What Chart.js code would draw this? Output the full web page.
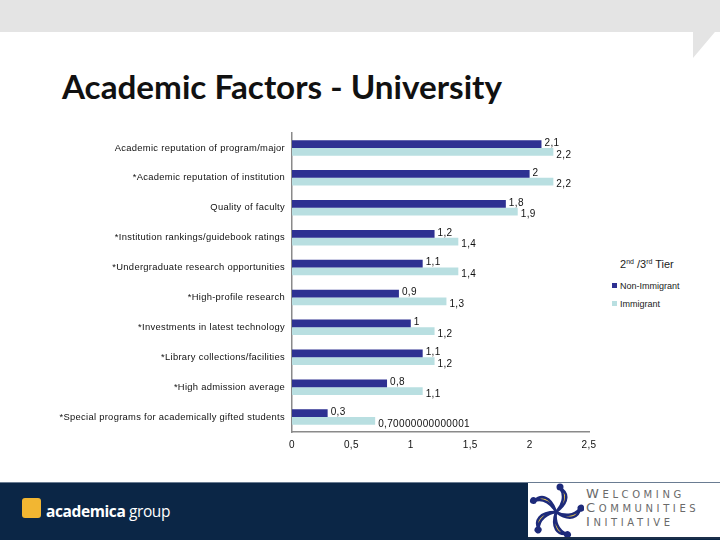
<!DOCTYPE html>
<html>
<head>
<meta charset="utf-8">
<script src="https://cdn.jsdelivr.net/npm/chart.js@4.4.0/dist/chart.umd.min.js"></script>
<style>
  html,body{margin:0;padding:0;background:#fff;}
  body{width:720px;height:540px;position:relative;overflow:hidden;font-family:"Liberation Sans",Arial,sans-serif;}
  #band{position:absolute;left:0;top:0;width:720px;height:32px;background:#e4e4e4;}
  #notch{position:absolute;left:0;top:0;}
  #title{position:absolute;left:62px;top:66px;font-family:Lato,"Open Sans",sans-serif;font-weight:bold;font-size:33px;color:#111;white-space:nowrap;transform-origin:0 0;}
  #legend{position:absolute;left:612px;top:258px;font-family:"Liberation Sans",Arial,sans-serif;color:#222;}
  #legend .t{font-size:11px;margin-left:8px;white-space:nowrap;}
  #legend .t sup{font-size:7px;vertical-align:4px;line-height:0;}
  #legend .it{font-size:9px;position:absolute;left:0;white-space:nowrap;}
  #legend .sw{display:inline-block;width:5px;height:5px;margin-right:3px;vertical-align:1px;}
  #footer{position:absolute;left:0;top:482px;width:720px;height:58px;background:#0b2646;border-top:1px solid #6a7c92;}
  #alogo{position:absolute;left:22px;top:15px;width:19px;height:20px;background:#f2b632;border-radius:3px;}
  #atext{position:absolute;left:46px;top:17px;color:#fff;font-family:"Open Sans",sans-serif;font-size:15.5px;letter-spacing:-0.4px;white-space:nowrap;}
  #wbox{position:absolute;left:528px;top:0;width:192px;height:54px;background:#fff;border-bottom:2px solid #1b2f4a;}
  #wtext{position:absolute;left:58px;top:4px;color:#6a6a6a;font-family:"DejaVu Sans",sans-serif;font-size:10px;letter-spacing:3.6px;line-height:13px;white-space:nowrap;}
  #wtext b{font-weight:normal;font-size:13px;}
  #c{position:absolute;left:0;top:0;z-index:5;}
</style>
</head>
<body>
<div id="band"></div>
<svg id="notch" width="720" height="70"><polygon points="693,31 693,58 720,26 720,31" fill="#e4e4e4"/></svg>
<div id="title">Academic Factors - University</div>
<div id="legend">
  <div class="t">2<sup>nd</sup> /3<sup>rd</sup> Tier</div>
  <div class="it" style="top:23px"><span class="sw" style="background:#2e3192"></span>Non-Immigrant</div>
  <div class="it" style="top:41px"><span class="sw" style="background:#b9dfe1"></span>Immigrant</div>
</div>
<div id="footer">
  <div id="alogo"></div>
  <div id="atext"><b>academica</b> group</div>
  <div id="wbox">
    <svg width="56" height="54" style="position:absolute;left:0;top:0">
      <g transform="translate(28,29)">
        <g id="pet">
          <path d="M0,0 C6,-6 10,-16 4,-24 C12,-20 14,-10 0,0 Z" fill="#f5d04a" stroke="#1d2a7a" stroke-width="2.5"/>
          <circle cx="4" cy="-25" r="3.5" fill="#1d2a7a"/>
        </g>
        <use href="#pet" transform="rotate(72)"/>
        <use href="#pet" transform="rotate(144)"/>
        <use href="#pet" transform="rotate(216)"/>
        <use href="#pet" transform="rotate(288)"/>
      </g>
    </svg>
    <div id="wtext"><b>W</b>ELCOMING<br><b>C</b>OMMUNITIES<br><b>I</b>NITIATIVE</div>
  </div>
</div>
<canvas id="c" width="720" height="540"></canvas>
<script>
const categories = [
  "Academic reputation of program/major",
  "*Academic reputation of institution",
  "Quality of faculty",
  "*Institution rankings/guidebook ratings",
  "*Undergraduate research opportunities",
  "*High-profile research",
  "*Investments in latest technology",
  "*Library collections/facilities",
  "*High admission average",
  "*Special programs for academically gifted students"
];
const nonImmigrant = [2.1, 2, 1.8, 1.2, 1.1, 0.9, 1, 1.1, 0.8, 0.3];
const immigrant = [2.2, 2.2, 1.9, 1.4, 1.4, 1.3, 1.2, 1.2, 1.1, 0.70000000000001];
const xTicks = [0, 0.5, 1, 1.5, 2, 2.5];

// fit title width
const t = document.getElementById('title');
const w = t.getBoundingClientRect().width;
t.style.transform = 'scaleX(' + (440 / w) + ')';

const fmt = v => String(v).replace('.', ',');

const spacingPlugin = {
  id: 'spacing',
  beforeDraw(chart) { chart.ctx.letterSpacing = '0.3px'; }
};

const labelPlugin = {
  id: 'vlabels',
  afterDatasetsDraw(chart) {
    const ctx = chart.ctx;
    ctx.save();
    ctx.letterSpacing = '0.35px';
    ctx.font = '10px "Liberation Sans", Arial, sans-serif';
    ctx.fillStyle = '#111';
    ctx.textAlign = 'left';
    ctx.textBaseline = 'middle';
    chart.data.datasets.forEach((ds, di) => {
      const meta = chart.getDatasetMeta(di);
      meta.data.forEach((el, i) => {
        const dy = di === 0 ? -1 : 3;
        ctx.fillText(fmt(ds.data[i]), el.x + 3, el.y + dy);
      });
    });
    ctx.restore();
  }
};

new Chart(document.getElementById('c'), {
  type: 'bar',
  data: {
    labels: categories,
    datasets: [
      { label: 'Non-Immigrant', data: nonImmigrant, backgroundColor: '#2e3192' },
      { label: 'Immigrant', data: immigrant, backgroundColor: '#b9dfe1' }
    ]
  },
  options: {
    indexAxis: 'y',
    responsive: false,
    animation: false,
    devicePixelRatio: 1,
    layout: { padding: { left: 0, right: 131, top: 133, bottom: 90 } },
    datasets: { bar: { categoryPercentage: 0.52, barPercentage: 1 } },
    plugins: { legend: { display: false }, tooltip: { enabled: false } },
    scales: {
      x: {
        min: 0, max: 2.5,
        afterBuildTicks: s => { s.ticks = xTicks.map(v => ({ value: v })); },
        afterFit: s => { s.height = 18; },
        grid: { display: false, drawTicks: false },
        border: { display: true, color: '#8a8a8a', width: 1.5 },
        ticks: { padding: 7, color: '#111', font: { size: 10, family: '"Liberation Sans", Arial, sans-serif' }, callback: v => fmt(v) }
      },
      y: {
        afterFit: s => { s.width = 292; },
        grid: { display: false, drawTicks: false },
        border: { display: true, color: '#8a8a8a', width: 1.5 },
        ticks: { padding: 7, color: '#111', font: { size: 9.4, family: '"Liberation Sans", Arial, sans-serif' } }
      }
    }
  },
  plugins: [spacingPlugin, labelPlugin]
});
</script>
</body>
</html>
